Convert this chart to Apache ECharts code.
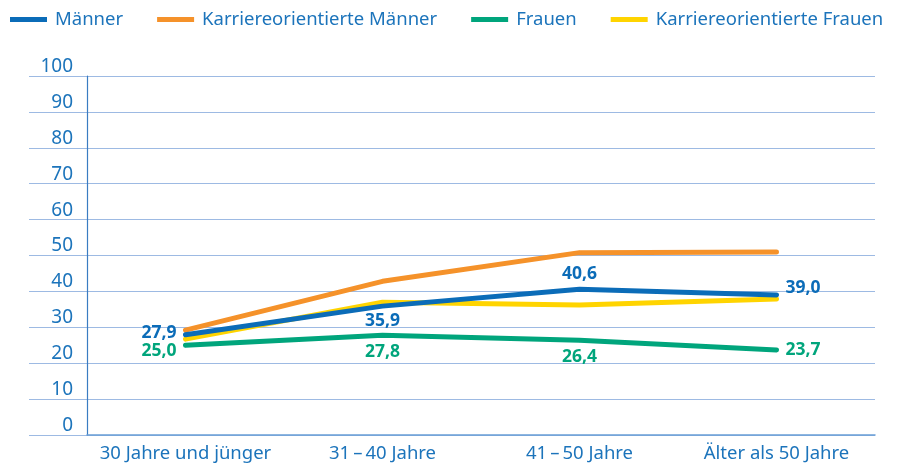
<!DOCTYPE html>
<html>
<head>
<meta charset="utf-8">
<script src="https://cdn.jsdelivr.net/npm/echarts@6/dist/echarts.min.js"></script>
<style>
  html, body { margin: 0; padding: 0; background: #fff; }
  #chart { width: 904px; height: 467px; }
</style>
</head>
<body>
<div id="chart"></div>
<script>
// Daten
const categories = ['30 Jahre und jünger', '31\u2009\u2013\u200940 Jahre', '41\u2009\u2013\u200950 Jahre', '\u00c4lter als 50 Jahre'];
const maenner = [27.9, 35.9, 40.6, 39.0];
const karriereMaenner = [29.2, 42.8, 50.8, 51.0];
const frauen = [25.0, 27.8, 26.4, 23.7];
const karriereFrauen = [26.7, 37.0, 36.2, 37.9];
const yTicks = [0, 10, 20, 30, 40, 50, 60, 70, 80, 90, 100];

const FONT = '"Noto Sans", sans-serif';
const TEXT = '#1c74bb';
const colors = { m: '#0b6cb8', km: '#f5922a', f: '#00a57c', kf: '#ffd400' };

const fmt = v => v.toFixed(1).replace('.', ',');

// Label-Positionen je Punkt
const posM = ['left', 'bottom', 'top', 'right'];
const posF = ['left', 'bottom', 'bottom', 'right'];
const offM = [[0, -2], [0, 0], [0, 0], [0, -7]];
const offF = [[0, 6], [0, 2], [0, 2], [0, 0]];

const labelled = (values, pos, off, color) => values.map((v, i) => ({
    value: v,
    label: {
        show: true,
        position: pos[i],
        distance: pos[i] === 'left' || pos[i] === 'right' ? 7 : 4,
        offset: off[i],
        formatter: p => fmt(p.value),
        color: color,
        fontFamily: FONT,
        fontWeight: 'bold',
        fontSize: 17.5
    }
}));

const lineSeries = (name, data, color, z) => ({
    name: name,
    type: 'line',
    data: data,
    xAxisIndex: 1,
    yAxisIndex: 1,
    symbol: 'circle',
    symbolSize: 4,
    showSymbol: true,
    itemStyle: { color: color },
    lineStyle: { color: color, width: 5, cap: 'round', join: 'round' },
    z: z,
    animation: false
});

const chart = echarts.init(document.getElementById('chart'));
chart.setOption({
    animation: false,
    legend: {
        left: 5,
        right: 0,
        top: 5,
        itemWidth: 37,
        itemHeight: 5,
        itemGap: 34,
        icon: 'rect',
        textStyle: { color: TEXT, fontFamily: FONT, fontSize: 18.5, padding: [0, 0, 0, 3] },
        data: ['Männer', 'Karriereorientierte Männer', 'Frauen', 'Karriereorientierte Frauen']
    },
    grid: [
        { left: 29, right: 29, top: 76, bottom: 32 },
        { left: 87, right: 29, top: 76, bottom: 32 }
    ],
    xAxis: [
        { gridIndex: 0, type: 'value', show: false, min: 0, max: 1 },
        {
            gridIndex: 1,
            type: 'category',
            data: categories,
            boundaryGap: true,
            axisLine: { lineStyle: { color: '#6a9fd6', width: 1.5 } },
            axisTick: { show: false },
            axisLabel: { color: TEXT, fontFamily: FONT, fontSize: 18.5, margin: 9, interval: 0 }
        }
    ],
    yAxis: [
        {
            gridIndex: 0, type: 'value', min: 0, max: 100, interval: 10,
            axisLine: { show: false }, axisTick: { show: false }, axisLabel: { show: false },
            splitLine: { lineStyle: { color: '#9dbae3', width: 1.2 } }
        },
        {
            gridIndex: 1, type: 'value', min: yTicks[0], max: yTicks[yTicks.length - 1], interval: 10,
            axisLine: { show: true, lineStyle: { color: '#3a7cc2', width: 1.2 } },
            axisTick: { show: false },
            splitLine: { show: false },
            axisLabel: { color: TEXT, fontFamily: FONT, fontSize: 19, margin: 14, verticalAlign: 'bottom' }
        }
    ],
    series: [
        lineSeries('Männer', labelled(maenner, posM, offM, colors.m), colors.m, 5),
        lineSeries('Karriereorientierte Männer', karriereMaenner, colors.km, 2),
        lineSeries('Frauen', labelled(frauen, posF, offF, colors.f), colors.f, 4),
        lineSeries('Karriereorientierte Frauen', karriereFrauen, colors.kf, 3)
    ]
});
</script>
</body>
</html>
